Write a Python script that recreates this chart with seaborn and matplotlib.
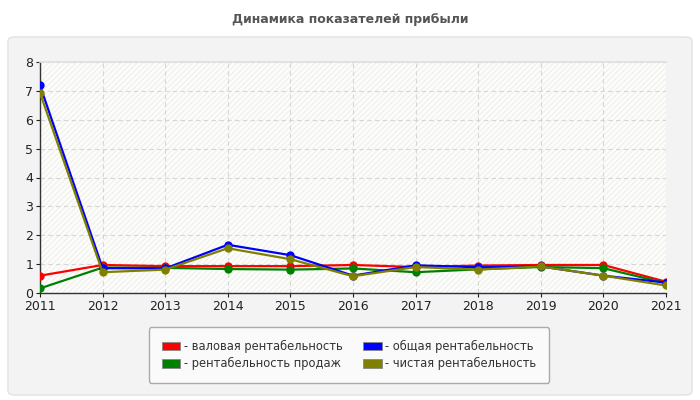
import matplotlib
matplotlib.use('Agg')
from matplotlib import pyplot as plt
from matplotlib.patches import FancyBboxPatch, Patch, Rectangle
import pandas as pd
import seaborn as sns

years = [2011, 2012, 2013, 2014, 2015, 2016, 2017, 2018, 2019, 2020, 2021]
gross = [0.60, 0.97, 0.93, 0.93, 0.93, 0.97, 0.90, 0.95, 0.97, 0.97, 0.39]
total = [7.19, 0.86, 0.85, 1.67, 1.31, 0.60, 0.96, 0.89, 0.92, 0.60, 0.36]
sales = [0.16, 0.88, 0.87, 0.83, 0.81, 0.85, 0.72, 0.82, 0.90, 0.86, 0.34]
net = [6.93, 0.72, 0.81, 1.55, 1.17, 0.58, 0.90, 0.81, 0.92, 0.60, 0.26]

names = ['валовая рентабельность', 'рентабельность продаж',
         'общая рентабельность', 'чистая рентабельность']
colors = ['#ff0000', '#008000', '#0000ff', '#808000']
series = [gross, sales, total, net]

df = pd.concat([
    pd.DataFrame({'year': years, 'value': vals, 'series': name})
    for name, vals in zip(names, series)
])

sns.set_theme(style='white')
plt.rcParams['font.family'] = ['DejaVu Sans']

fig = plt.figure(figsize=(7, 4), dpi=100)
fig.patch.set_facecolor('white')

# grey rounded panel behind the chart
panel = FancyBboxPatch((8 / 700, 5 / 400), 684 / 700, 358 / 400,
                       boxstyle='round,pad=0,rounding_size=0.01',
                       transform=fig.transFigure, facecolor='#f3f3f3',
                       edgecolor='#e2e2e2', linewidth=1, zorder=-5)
fig.patches.append(panel)

fig.text(0.5, 1 - 20 / 400, 'Динамика показателей прибыли', ha='center', va='center',
         fontsize=9, fontweight='bold', color='#555555')

ax = fig.add_axes([40 / 700, 107 / 400, 626 / 700, 231 / 400])
ax.set_facecolor('#fdfdfa')
ax.add_patch(Rectangle((0, 0), 1, 1, transform=ax.transAxes, facecolor='none',
                       edgecolor='#f1f1f1', hatch='//////', linewidth=0, zorder=0))

# draw order: red, blue, green, olive
draw_order = [0, 2, 1, 3]
for i in draw_order:
    sns.lineplot(ax=ax, data=df[df['series'] == names[i]], x='year', y='value',
                 color=colors[i], linewidth=1.6, marker='o', markersize=6,
                 markeredgewidth=0, legend=False, zorder=3 + i)

ax.set_xlim(2011, 2021)
ax.set_ylim(0, 8)
ax.set_xticks(years)
ax.set_yticks(range(0, 9))
ax.grid(True, linestyle=(0, (4, 3)), color='#d6d6d6', linewidth=0.8, zorder=1)
ax.set_axisbelow(True)
ax.set_xlabel('')
ax.set_ylabel('')
ax.tick_params(axis='both', labelsize=9, colors='#222222', length=3, width=0.8,
               direction='out', bottom=True, left=True, pad=2)
for side in ['left', 'bottom']:
    ax.spines[side].set_color('#333333')
    ax.spines[side].set_linewidth(1)
ax.spines['top'].set_color('#e0e0e0')
ax.spines['right'].set_visible(False)

handles = [Patch(facecolor=c, edgecolor='#888888', linewidth=0.6) for c in colors]
labels = ['- ' + n for n in names]
leg = fig.legend(handles, labels, ncol=2, loc='center', bbox_to_anchor=(349 / 700, 1 - 355 / 400),
                 frameon=True, fontsize=8.3, handlelength=1.6, handleheight=0.8,
                 handletextpad=0.3, columnspacing=1.8, borderpad=1.1, labelspacing=0.35,
                 fancybox=True, edgecolor='#aaaaaa', facecolor='#fafafa', framealpha=1)
for t in leg.get_texts():
    t.set_color('#333333')

fig.savefig('out.png', dpi=100)
